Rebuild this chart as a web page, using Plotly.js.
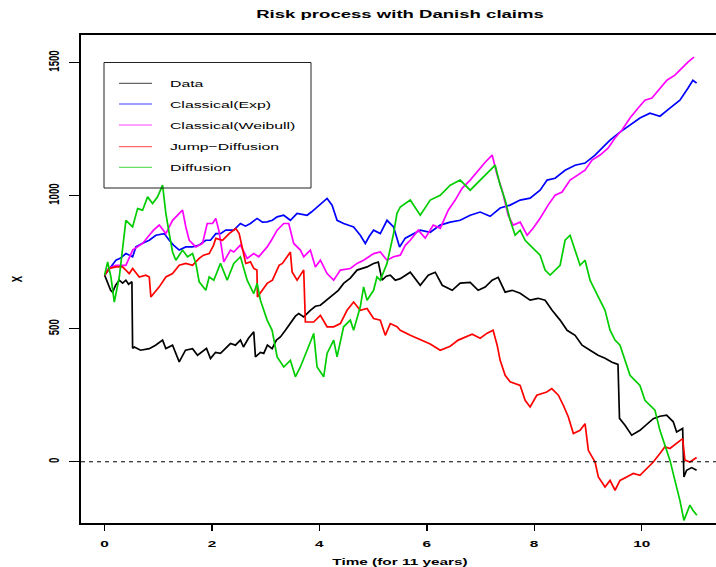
<!DOCTYPE html>
<html>
<head>
<meta charset="utf-8">
<script src="https://cdn.plot.ly/plotly-3.0.1.min.js"></script>
<style>
html,body{margin:0;padding:0;background:#fff;overflow:hidden;}
#chart{width:725px;height:567px;}
</style>
</head>
<body>
<div id="chart"></div>
<script>
// ---- data (time in years, surplus X) ----
const seriesNames = ["Data","Classical(Exp)","Classical(Weibull)","Jump\u2212Diffusion","Diffusion"];
const seriesColors = ["#000000","#0000FF","#FF00FF","#FF0000","#00CD00"];

const tData = [0,0.056,0.112,0.149,0.205,0.273,0.335,0.396,0.446,0.508,0.521,0.552,0.670,0.831,0.948,1.079,1.140,1.265,1.389,1.506,1.637,1.730,1.823,1.897,1.971,2.064,2.157,2.250,2.343,2.436,2.529,2.585,2.678,2.777,2.808,2.901,2.963,3.031,3.119,3.199,3.273,3.366,3.459,3.552,3.614,3.707,3.831,3.924,4.017,4.129,4.265,4.352,4.450,4.575,4.700,4.798,4.886,5.008,5.096,5.165,5.245,5.319,5.412,5.505,5.691,5.877,6.026,6.156,6.286,6.472,6.621,6.807,6.956,7.086,7.216,7.328,7.458,7.588,7.737,7.923,8.071,8.202,8.332,8.481,8.611,8.760,8.890,9.039,9.188,9.318,9.448,9.559,9.587,9.690,9.814,9.968,10.080,10.216,10.340,10.465,10.588,10.651,10.763,10.787,10.837,10.930,11.023];
const xData = [701,674,644,637,663,682,671,682,667,676,426,431,419,425,438,457,425,438,375,419,425,400,413,426,388,411,407,426,444,438,457,431,464,488,394,411,407,438,425,457,469,494,519,547,557,544,569,584,588,607,632,644,670,690,720,727,732,745,750,682,697,701,682,688,712,663,701,712,663,644,671,674,644,656,682,693,637,644,633,607,614,607,569,532,494,475,438,419,400,389,374,366,163,137,100,118,137,162,171,175,150,112,125,-57,-32,-22,-32];

const tExp = [0,0.074,0.210,0.298,0.396,0.521,0.582,0.707,0.831,0.954,1.110,1.203,1.283,1.389,1.512,1.637,1.761,1.884,1.971,2.070,2.157,2.256,2.405,2.529,2.622,2.715,2.840,2.938,3.026,3.124,3.212,3.335,3.459,3.584,3.770,3.850,3.956,4.054,4.142,4.235,4.328,4.450,4.538,4.636,4.761,4.854,4.928,5.008,5.133,5.258,5.380,5.492,5.598,5.691,5.877,6.063,6.249,6.435,6.621,6.807,6.993,7.179,7.365,7.551,7.737,7.923,8.109,8.239,8.388,8.574,8.760,8.946,9.132,9.280,9.411,9.597,9.783,9.968,10.154,10.340,10.526,10.712,10.861,10.954,11.023];
const xExp = [701,720,757,765,782,770,807,821,832,851,857,832,814,795,807,807,814,832,832,857,857,870,870,895,885,895,914,900,901,907,920,926,907,933,926,938,957,975,989,964,907,895,889,882,851,820,847,870,857,907,882,807,840,851,870,862,889,900,907,926,938,922,953,964,983,990,1020,1058,1065,1095,1114,1122,1152,1182,1208,1238,1264,1291,1309,1298,1328,1358,1403,1433,1422];

const tWei = [0,0.074,0.210,0.396,0.521,0.707,0.831,0.911,1.017,1.140,1.265,1.358,1.451,1.512,1.575,1.698,1.823,1.910,2.009,2.070,2.126,2.219,2.343,2.405,2.529,2.654,2.777,2.870,3.026,3.106,3.212,3.335,3.428,3.521,3.645,3.707,3.831,3.924,4.017,4.142,4.265,4.389,4.575,4.700,4.822,5.008,5.133,5.258,5.380,5.505,5.598,5.691,5.840,5.970,6.119,6.249,6.398,6.528,6.658,6.807,6.956,7.086,7.216,7.309,7.402,7.514,7.607,7.737,7.867,7.978,8.109,8.258,8.388,8.518,8.667,8.815,8.946,9.076,9.225,9.374,9.504,9.634,9.783,9.931,10.061,10.191,10.340,10.470,10.619,10.749,10.861,10.973];
const xWei = [701,727,738,738,795,820,851,870,889,857,907,926,945,882,832,807,820,895,895,914,870,751,795,788,814,764,782,770,807,832,870,895,895,820,795,770,795,732,757,707,682,720,726,745,757,782,788,757,770,776,813,832,870,840,889,877,945,983,1028,1058,1095,1125,1152,1077,1020,926,889,900,851,877,915,964,1001,1013,1058,1077,1095,1133,1152,1178,1216,1246,1291,1328,1358,1366,1403,1433,1452,1479,1501,1520];

const tJD = [0,0.087,0.210,0.335,0.459,0.521,0.645,0.768,0.831,0.861,1.017,1.140,1.265,1.389,1.512,1.637,1.761,1.841,1.947,2.027,2.070,2.195,2.319,2.442,2.505,2.566,2.628,2.715,2.777,2.836,2.845,3.026,3.124,3.249,3.310,3.398,3.459,3.491,3.584,3.645,3.707,3.738,3.893,4.017,4.142,4.265,4.389,4.514,4.636,4.761,4.886,5.008,5.133,5.226,5.319,5.444,5.505,5.691,5.877,6.063,6.249,6.435,6.584,6.714,6.844,6.993,7.123,7.234,7.309,7.365,7.458,7.551,7.737,7.830,7.923,8.047,8.233,8.326,8.449,8.542,8.635,8.728,8.853,8.946,9.007,9.132,9.193,9.318,9.411,9.504,9.597,9.721,9.844,9.968,10.093,10.216,10.340,10.433,10.526,10.651,10.763,10.805,10.898,11.023];
const xJD = [701,726,732,732,707,726,694,701,694,619,657,694,707,738,745,738,764,776,782,813,839,832,857,876,857,795,745,751,726,720,619,670,682,738,745,770,788,713,682,701,720,525,525,550,507,507,519,569,600,569,576,538,532,475,519,507,494,475,457,442,419,434,457,468,479,464,483,494,438,381,325,300,287,231,206,250,262,275,250,212,168,106,118,143,43,-1,-57,-95,-70,-107,-70,-57,-44,-51,-26,-1,31,56,50,68,87,6,-1,16];

const tDif = [0,0.056,0.117,0.180,0.273,0.366,0.396,0.521,0.614,0.707,0.800,0.893,0.986,1.079,1.140,1.203,1.265,1.326,1.451,1.544,1.637,1.698,1.761,1.884,1.947,2.033,2.157,2.282,2.405,2.529,2.654,2.777,2.840,2.901,3.026,3.119,3.212,3.335,3.459,3.552,3.645,3.770,3.893,3.956,4.079,4.142,4.265,4.328,4.450,4.575,4.636,4.761,4.822,4.886,5.008,5.071,5.133,5.258,5.380,5.444,5.505,5.691,5.877,6.063,6.249,6.435,6.621,6.807,6.993,7.179,7.272,7.365,7.458,7.551,7.644,7.737,7.830,7.923,8.109,8.202,8.295,8.481,8.574,8.667,8.760,8.853,8.946,9.039,9.132,9.225,9.318,9.411,9.504,9.597,9.690,9.783,9.875,9.968,10.061,10.154,10.247,10.340,10.433,10.526,10.619,10.712,10.787,10.898,10.954,11.028];
const xDif = [701,751,694,600,694,845,907,882,951,945,995,970,995,1039,933,857,788,757,795,770,782,745,676,644,694,682,745,682,745,770,682,632,670,607,532,494,394,356,381,319,356,419,482,356,319,407,457,394,507,532,494,582,657,607,644,694,682,745,857,933,957,983,926,983,1001,1039,1058,1020,1058,1095,1114,1039,983,907,851,870,832,813,776,720,701,738,832,851,795,738,757,682,644,607,569,494,457,438,381,325,306,287,231,212,194,118,62,6,-70,-145,-220,-163,-182,-201];

const xTickVals = [0,2,4,6,8,10];
const yTickVals = [0,500,1000,1500];

// ---- geometry helpers (pixel layout of reference) ----
const W = 725, H = 567;
const M = {l:81, r:6, t:35, b:44};
const PW = W - M.l - M.r, PH = H - M.t - M.b;
const px2paper = x => (x - M.l) / PW;
const py2paper = y => (H - M.b - y) / PH;

const times = [tData,tExp,tWei,tJD,tDif];
const vals = [xData,xExp,xWei,xJD,xDif];

const traces = times.map((t,i)=>({
  type:'scatter', mode:'lines', x:t, y:vals[i], name:seriesNames[i],
  line:{color:seriesColors[i], width:1.7}, showlegend:false, hoverinfo:'skip'
}));

const FONT = 'Liberation Sans, Arial, Helvetica, sans-serif';
const baseSize = 9.6;

// legend (drawn as a boxed key)
const legY = [83.3,104,125,146.7,167.3];
const shapes = [
  {type:'line', xref:'paper', yref:'y', x0:0, x1:1, y0:0, y1:0,
   line:{color:'#000', width:1, dash:'4px,4px'}},
  {type:'rect', xref:'paper', yref:'paper', x0:px2paper(104), x1:px2paper(311), y0:py2paper(188), y1:py2paper(62.5),
   line:{color:'#222', width:1}, fillcolor:'rgba(255,255,255,0)'}
];
const annotations = [];
seriesNames.forEach((n,i)=>{
  shapes.push({type:'line', xref:'paper', yref:'paper', x0:px2paper(119), x1:px2paper(152),
    y0:py2paper(legY[i]), y1:py2paper(legY[i]), line:{color:seriesColors[i], width:1}, opacity:0.75});
  annotations.push({xref:'paper', yref:'paper', x:px2paper(167.5), y:py2paper(legY[i]),
    xanchor:'left', yanchor:'middle', text:n, showarrow:false,
    font:{family:FONT, size:baseSize+0.3, color:'#000'}});
});

const layout = {
  width:W, height:H, margin:M, paper_bgcolor:'#fff', plot_bgcolor:'#fff', showlegend:false,
  title:{text:'Risk process with Danish claims', font:{family:FONT, size:11.6, weight:'bold', color:'#000'},
    x:0.5, xref:'paper', xanchor:'center', y:1-14/H, yref:'container', yanchor:'middle'},
  xaxis:{range:[-0.44,11.44], tickvals:xTickVals, ticktext:xTickVals.map(String), ticks:'outside', ticklen:6, tickwidth:1.4,
    tickcolor:'#000', showline:true, linecolor:'#000', linewidth:2, mirror:true, showgrid:false, zeroline:false,
    tickfont:{family:FONT, size:baseSize, weight:'bold', color:'#000'}, ticklabelstandoff:4,
    title:{text:'Time (for 11 years)', font:{family:FONT, size:baseSize, weight:'bold', color:'#000'}, standoff:14}},
  yaxis:{range:[-230,1603], tickvals:yTickVals, ticktext:yTickVals.map(String), ticks:'outside', ticklen:10, tickwidth:1.4,
    tickcolor:'#000', showline:true, linecolor:'#000', linewidth:2, mirror:true, showgrid:false, zeroline:false,
    tickangle:-90, tickfont:{family:FONT, size:baseSize, weight:'bold', color:'#000'}, ticklabelstandoff:8,
    title:{text:'X', font:{family:FONT, size:baseSize, weight:'bold', color:'#000'}, standoff:26}},
  shapes:shapes, annotations:annotations
};

// horizontal stretch of all texts (reference image is horizontally stretched)
const STRETCH = 1.6;
function stretchText(gd){
  const items = [];
  gd.querySelectorAll('text.gtitle, text.xtitle, text.ytitle, g.xtick text, g.ytick text').forEach(el=>items.push([el,'c']));
  gd.querySelectorAll('g.annotation text').forEach(el=>items.push([el,'l']));
  items.forEach(([el,mode])=>{
    const r = el.getBoundingClientRect();
    if(!r.width) return;
    const ax = mode==='l' ? r.left : r.left + r.width/2;
    const ay = r.top + r.height/2;
    const parent = el.parentNode;
    const svg = el.ownerSVGElement;
    const p = svg.createSVGPoint(); p.x = ax; p.y = ay;
    const q = p.matrixTransform(parent.getScreenCTM().inverse());
    const g = document.createElementNS('http://www.w3.org/2000/svg','g');
    g.setAttribute('transform', `translate(${q.x},${q.y}) scale(${STRETCH},1) translate(${-q.x},${-q.y})`);
    parent.insertBefore(g, el); g.appendChild(el);
  });
}

Plotly.newPlot('chart', traces, layout, {staticPlot:true}).then(gd=>stretchText(gd));
</script>
</body>
</html>
